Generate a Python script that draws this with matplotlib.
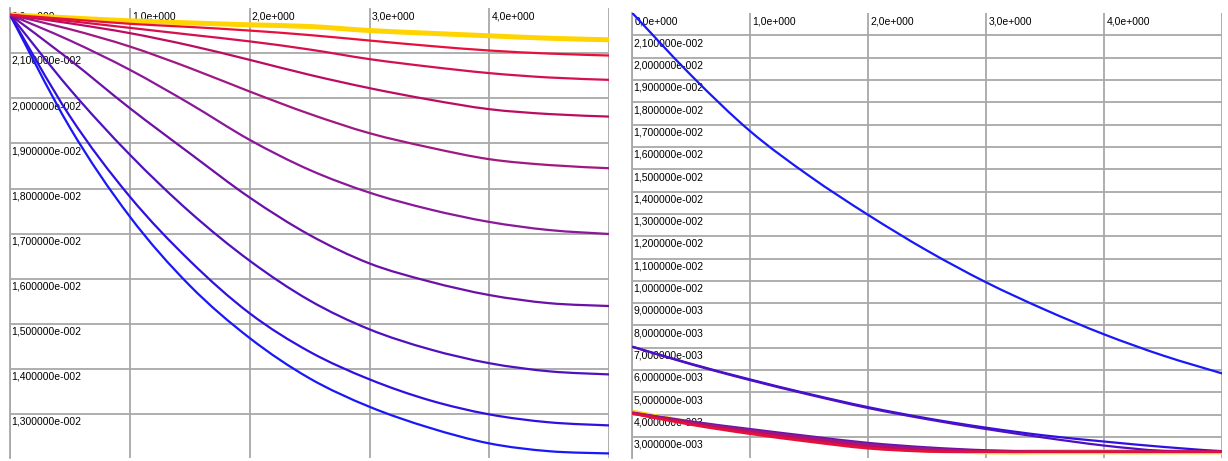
import matplotlib
matplotlib.use('Agg')
import matplotlib.pyplot as plt
from matplotlib.path import Path
from matplotlib.patches import PathPatch

plt.rcParams['font.family'] = ['Liberation Sans', 'DejaVu Sans']

# sample positions along x
xs = [0.0, 0.5, 1.0, 1.5, 2.0, 2.5, 3.0, 3.5, 4.0, 4.5, 5.0]

# left panel: one profile per run, top (gold) to bottom (blue)
left_gold    = [.021849, .02178, .021716, .02167, .021627, .02159, .021501, .02144, .021384, .02133, .021295]
left_red     = [.021849, .02175, .021650, .02158, .021500, .021400, .021279, .02116, .021058, .02099, .020947]
left_rose    = [.021849, .02171, .021560, .02141, .021260, .021080, .020867, .02070, .020557, .02046, .020408]
left_crimson = [.021849, .02166, .021443, .02117, .020851, .020519, .020224, .01997, .019758, .01965, .019594]
left_magenta = [.021849, .02153, .021146, .02067, .020149, .019654, .019226, .01891, .018650, .01852, .018450]
left_plum    = [.021849, .02128, .020630, .01988, .019078, .018412, .017909, .01754, .017260, .01708, .016993]
left_purple  = [.021849, .02085, .019780, .01878, .017800, .016970, .016340, .01594, .015640, .01546, .015397]
left_violet  = [.021849, .02020, .018750, .01748, .016400, .015520, .014880, .01444, .014130, .01395, .013882]
left_indigo  = [.021849, .01960, .017820, .01640, .015235, .014384, .013772, .01331, .012996, .01282, .012752]
left_blue    = [.021849, .01935, .017377, .01585, .014687, .013794, .013164, .01270, .012353, .01218, .012131]

# right panel: same runs, different quantity
right_gold    = [.00412, .00363, .00325, .00291, .00260, .00242, .00234, .00234, .00234, .00234, .00234]
right_red     = [.00405, .00355, .00314, .00279, .00249, .00235, .00234, .00234, .00234, .00234, .00234]
right_rose    = [.00406, .00358, .00319, .00284, .00253, .00237, .00234, .00234, .00234, .00234, .00234]
right_crimson = [.00407, .00361, .00323, .00289, .00258, .00240, .00234, .00234, .00234, .00234, .00234]
right_magenta = [.00408, .00364, .00327, .00294, .00263, .00244, .00235, .00234, .00234, .00234, .00234]
right_plum    = [.00409, .00367, .00331, .00299, .00268, .00249, .00237, .00234, .00234, .00234, .00234]
right_purple  = [.00410, .00370, .00336, .00304, .00274, .00254, .00241, .00235, .00234, .00234, .00234]
right_violet  = [.00705, .00626, .00555, .00490, .00430, .00380, .00336, .00297, .00262, .00238, .00234]
right_indigo  = [.00705, .00628, .00558, .00493, .00434, .00384, .00342, .00307, .00280, .00256, .00236]
right_blue    = [.02200, .01920, .01670, .01470, .01295, .01135, .00993, .00870, .00760, .00665, .00585]

colors = ['#ffd400', '#e8103a', '#d4104e', '#bc0c62', '#a01880',
          '#8a1898', '#6c10a8', '#5010c0', '#3010e0', '#1818f8']
widths = [3.6, 1.6, 1.6, 1.6, 1.6, 1.6, 1.6, 1.6, 1.6, 1.6]

left_series = [left_gold, left_red, left_rose, left_crimson, left_magenta,
               left_plum, left_purple, left_violet, left_indigo, left_blue]
right_series = [right_gold, right_red, right_rose, right_crimson, right_magenta,
                right_plum, right_purple, right_violet, right_indigo, right_blue]

x_ticks = [0, 1, 2, 3, 4]
left_yticks = [0.013, 0.014, 0.015, 0.016, 0.017, 0.018, 0.019, 0.020, 0.021]
right_yticks = [0.003, 0.004, 0.005, 0.006, 0.007, 0.008, 0.009, 0.010, 0.011,
                0.012, 0.013, 0.014, 0.015, 0.016, 0.017, 0.018, 0.019, 0.020, 0.021]

GRID = '#a8a8a8'


def sci(v, digits):
    # 2.1e-2 -> "2,100000e-002"
    m, e = ('%.*e' % (digits, v)).split('e')
    e = int(e)
    return '%se%s%03d' % (m.replace('.', ','), '-' if e < 0 else '+', abs(e))


def smooth_path(x, y):
    # catmull-rom through the samples, written out as cubic bezier segments
    n = len(x)
    verts = [(x[0], y[0])]
    codes = [Path.MOVETO]
    for i in range(n - 1):
        i0 = max(i - 1, 0)
        i3 = min(i + 2, n - 1)
        c1 = (x[i] + (x[i + 1] - x[i0]) / 6, y[i] + (y[i + 1] - y[i0]) / 6)
        c2 = (x[i + 1] - (x[i3] - x[i]) / 6, y[i + 1] - (y[i3] - y[i]) / 6)
        verts += [c1, c2, (x[i + 1], y[i + 1])]
        codes += [Path.CURVE4] * 3
    return Path(verts, codes)


def panel(ax, series, ylim, yticks):
    ax.set_xlim(0, 5)
    ax.set_ylim(*ylim)
    for xv in x_ticks + [5]:
        ax.axvline(xv, color=GRID, lw=1.3, zorder=0)
    for yv in yticks:
        ax.axhline(yv, color=GRID, lw=1.3, zorder=0)
    for s in ax.spines.values():
        s.set_visible(False)
    ax.spines['left'].set_visible(True)
    ax.spines['left'].set_color(GRID)
    ax.spines['left'].set_linewidth(1.3)
    ax.set_xticks([])
    ax.set_yticks([])

    for xv in x_ticks:
        ax.annotate(sci(xv, 1), xy=(xv, 1), xycoords=ax.get_xaxis_transform(),
                    xytext=(1.5, -2.5), textcoords='offset points',
                    ha='left', va='top', fontsize=7.5, zorder=1)
    for yv in yticks:
        ax.annotate(sci(yv, 6), xy=(0, yv), xycoords=ax.get_yaxis_transform(),
                    xytext=(1.0, -2.0), textcoords='offset points',
                    ha='left', va='top', fontsize=7.5, zorder=1)

    for i, (ys, c, w) in enumerate(zip(series, colors, widths)):
        z = 2 if i == 0 else 12 - i
        ax.add_patch(PathPatch(smooth_path(xs, ys), fill=False, edgecolor=c,
                               lw=w, capstyle='butt', zorder=z))


fig = plt.figure(figsize=(12.28, 4.61), dpi=100)
fig.patch.set_facecolor('white')

ax1 = fig.add_axes([10 / 1228, 3 / 461, 599.3 / 1228, 450 / 461])
panel(ax1, left_series, (0.01203, 0.02200), left_yticks)

ax2 = fig.add_axes([632.3 / 1228, 2.7 / 461, 590 / 1228, 445.3 / 461])
panel(ax2, right_series, (0.00205, 0.02200), right_yticks)

fig.savefig('out.png', dpi=100, facecolor='white')
